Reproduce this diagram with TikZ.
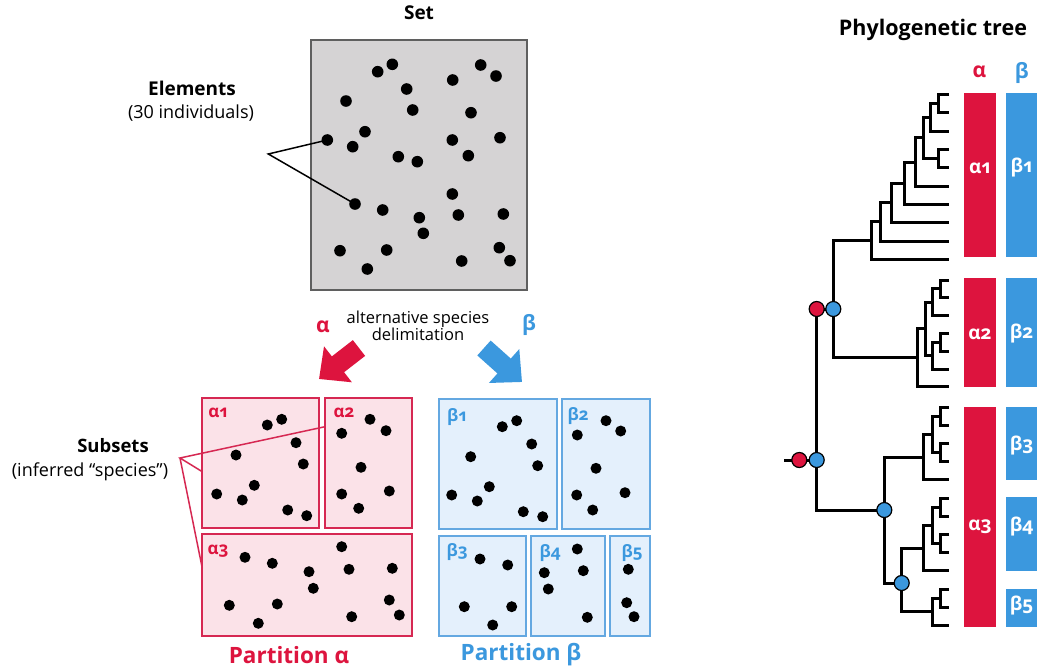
\documentclass[tikz,border=0pt]{standalone}
\usepackage{fontspec}
\setmainfont{Open Sans}
\newfontfamily\labfont[Numbers=OldStyle]{Open Sans}
\usetikzlibrary{arrows.meta}
\definecolor{setfill}{RGB}{213,211,212}
\definecolor{setdraw}{RGB}{95,95,95}
\definecolor{cRed}{RGB}{221,20,62}
\definecolor{cBlue}{RGB}{59,152,222}
\definecolor{pinkfill}{RGB}{251,226,232}
\definecolor{bluefill}{RGB}{228,240,252}
\definecolor{cRedBox}{RGB}{214,40,82}
\definecolor{cBlueBox}{RGB}{100,168,225}
\newcommand\tj[3]{\draw[tree] (#2) -| (#1) |- (#3);}
\begin{document}
\begin{tikzpicture}[x=1pt,y=-1pt,
  ttl/.style={font=\bfseries\fontsize{19}{22}\selectfont},
  bigttl/.style={font=\bfseries\fontsize{22.5}{26}\selectfont},
  sub/.style={font=\fontsize{18}{21}\selectfont},
  tree/.style={line width=3pt, line cap=butt, line join=miter},
  rnode/.style={circle,draw=black,line width=1.2pt,fill=cRed,minimum size=15pt,inner sep=0pt},
  bnode/.style={circle,draw=black,line width=1.2pt,fill=cBlue,minimum size=15pt,inner sep=0pt},
  setbox/.style={fill=setfill,draw=setdraw,line width=2pt},
  alphabox/.style={fill=pinkfill,draw=cRedBox,line width=1.8pt},
  betabox/.style={fill=bluefill,draw=cBlueBox,line width=1.8pt},
  boxlab/.style={font=\labfont\bfseries\fontsize{17}{20}\selectfont},
  barlab/.style={font=\labfont\bfseries\fontsize{19}{22}\selectfont,text=white},
  bigarrow/.style={line width=20pt,-{Triangle[length=24pt,width=44pt]}},
  pointer/.style={line width=1.5pt},
]
\useasboundingbox (0,0) rectangle (1037,670);
\fill[white] (0,0) rectangle (1037,670);

% ---------- Set ----------
\node[ttl] (settitle) at (419,13) {Set};
\draw[setbox] (311,40) rectangle (527,290);
\node[ttl] (elem) at (192,88) {Elements};
\node[sub] (elemsub) at (191,113) {(30 individuals)};
\coordinate (elv) at (268.3,154);
\coordinate (sdA) at (327.3,140);
\coordinate (sdB) at (355,204);
\draw[pointer] (sdA) -- (elv) -- (sdB);
\foreach \x/\y in {377.7/71.7,392.3/64.3,406.7/89,346/101,412.7/110,452.7/80,480.7/65,496/76,471/112.7,327.3/140,365/131.7,352.7/146.7,398.3/156.7,417.3/161.7,452.3/140,468.3/155.7,500/137.7,355/204,382.7/210,419.3/217.7,423.3/233.3,452.3/194,458.3/215,503.3/214,340/250.7,386.7/250,367.3/269,461.7/261,499.3/247.7,510/260.7}
  \fill (\x,\y) circle (5.8pt);

% ---------- arrows ----------
\coordinate (raT) at (359,348);
\coordinate (raP) at (319,379);
\coordinate (baT) at (484,348);
\coordinate (baP) at (522,382);
\draw[bigarrow,cRed] (raT) -- (raP);
\draw[bigarrow,cBlue] (baT) -- (baP);
\node[font=\bfseries\fontsize{21}{24}\selectfont,text=cRed] (alab) at (323,327) {α};
\node[font=\bfseries\fontsize{21}{24}\selectfont,text=cBlue] (blab) at (529,325) {β};
\node[font=\fontsize{16.5}{14}\selectfont,align=center] (alt) at (418,326) {alternative species\\delimitation};

% ---------- Partition alpha ----------
\draw[alphabox] (202.3,398.3) rectangle (319.3,527.7);
\draw[alphabox] (325,398.3) rectangle (411.7,527.7);
\draw[alphabox] (202.3,534) rectangle (411.7,636);
\node[boxlab,text=cRed] (la1) at (218,413) {α1};
\node[boxlab,text=cRed] (la2) at (344,413) {α2};
\node[boxlab,text=cRed] (la3) at (218,551) {α3};
\foreach \x/\y in {267.3/425,281.7/419.3,296/442.7,236/455,303.3/464,254.3/485.3,216.7/494,242.3/500,287.7/510,306.7/515.7,370/419.3,386/430.7,341.7/433.3,361/467.3,341.7/494,389.3/491,358.7/508.3,341.7/546.7,245/557.3,272.3/563.3,349/569.3,309/571.7,392.3/568.3,313.3/588.3,229.3/605.3,277.3/604,389.3/600,399.3/615,258.3/623.3,351.7/616.7}
  \fill (\x,\y) circle (5.5pt);
\node[bigttl,text=cRed] (pa) at (289,655) {Partition α};

% subsets pointer
\node[font=\bfseries\fontsize{18.5}{21}\selectfont] (subs) at (113,446) {Subsets};
\node[sub] (subsub) at (90,472) {(inferred “species”)};
\coordinate (sv) at (180,458);
\coordinate (sp1) at (202.3,471.7);
\coordinate (sp2) at (325,426.7);
\coordinate (sp3) at (202.3,568.3);
\draw[pointer,cRedBox] (sp2) -- (sv) -- (sp1);
\draw[pointer,cRedBox] (sv) -- (sp3);

% ---------- Partition beta ----------
\draw[betabox] (439,399) rectangle (557.3,529.3);
\draw[betabox] (562.3,399) rectangle (650,529.3);
\draw[betabox] (439,535.7) rectangle (525.7,636);
\draw[betabox] (530.7,535.7) rectangle (605,636);
\draw[betabox] (610.3,535.7) rectangle (650,636);
\node[boxlab,text=cBlue] (lb1) at (457,416.7) {β1};
\node[boxlab,text=cBlue] (lb2) at (578,416) {β2};
\node[boxlab,text=cBlue] (lb3) at (457,551.7) {β3};
\node[boxlab,text=cBlue] (lb4) at (550,553) {β4};
\node[boxlab,text=cBlue] (lb5) at (632,553) {β5};
\foreach \x/\y in {502.3/426.7,516.7/420.7,531.7/444,470.7/456.7,537.7/465.7,489.3/486.7,451.7/495,477.3/501,523.3/511.7,542.7/516.7,606/420.7,620.7/431,577.3/435,596/468.3,576.7/495,625/492.7,592.7/510,480/559,507.7/565,464.3/606.7,511.7/606.7,492.7/625,577.3/549,544.3/572.7,583.3/570.7,548.3/589,587.3/617.3,628.3/569.3,626.7/602.7,634/616.7}
  \fill (\x,\y) circle (5.5pt);
\node[bigttl,text=cBlue] (pb) at (521,655) {Partition β};

% ---------- Phylogenetic tree ----------
\node[font=\bfseries\fontsize{21.5}{25}\selectfont] (phylo) at (933,30) {Phylogenetic tree};
\node[font=\bfseries\fontsize{21}{24}\selectfont,text=cRed] (ha) at (979.3,72) {α};
\node[font=\bfseries\fontsize{21}{24}\selectfont,text=cBlue] (hb) at (1021.7,73) {β};

% bars
\fill[cRed] (964,92.7) rectangle (995.7,257.3);
\fill[cRed] (964,278.3) rectangle (995.7,387.3);
\fill[cRed] (964,406.7) rectangle (995.7,627.3);
\fill[cBlue] (1006,92.7) rectangle (1037,257.3);
\fill[cBlue] (1006,278.3) rectangle (1037,387.3);
\fill[cBlue] (1006,406.7) rectangle (1037,480);
\fill[cBlue] (1006,497.3) rectangle (1037,570.7);
\fill[cBlue] (1006,589.3) rectangle (1037,627.3);
\node[barlab] (ba1) at (980,168) {α1};
\node[barlab] (ba2) at (980,334) {α2};
\node[barlab] (ba3) at (980,527) {α3};
\node[barlab] (bb1) at (1021.5,168) {β1};
\node[barlab] (bb2) at (1021.5,334) {β2};
\node[barlab] (bb3) at (1021.5,446) {β3};
\node[barlab] (bb4) at (1021.5,527) {β4};
\node[barlab] (bb5) at (1021.5,606) {β5};

% leaves clade 1
\coordinate (l1) at (949,94.3);
\coordinate (l2) at (949,112.6);
\coordinate (l3) at (949,131);
\coordinate (l4) at (949,149.3);
\coordinate (l5) at (949,167.6);
\coordinate (l6) at (949,186);
\coordinate (l7) at (949,204.3);
\coordinate (l8) at (949,222.6);
\coordinate (l9) at (949,241);
\coordinate (l10) at (949,259.3);
\coordinate (a1) at (938.3,103.5);
\coordinate (a2) at (930,117.2);
\coordinate (a3) at (938.3,158.5);
\coordinate (a4) at (923.3,137.9);
\coordinate (a5) at (915,162);
\coordinate (a6) at (904,183.1);
\coordinate (a7) at (891.7,202.9);
\coordinate (a8) at (880,221.9);
\coordinate (a9) at (871.7,240.6);
\tj{a1}{l1}{l2}
\tj{a2}{a1}{l3}
\tj{a3}{l4}{l5}
\tj{a4}{a2}{a3}
\tj{a5}{a4}{l6}
\tj{a6}{a5}{l7}
\tj{a7}{a6}{l8}
\tj{a8}{a7}{l9}
\tj{a9}{a8}{l10}

% clade 2
\coordinate (m1) at (949,280);
\coordinate (m2) at (949,297.8);
\coordinate (m3) at (949,315.6);
\coordinate (m4) at (949,333.4);
\coordinate (m5) at (949,351.2);
\coordinate (m6) at (949,369);
\coordinate (m7) at (949,386.8);
\coordinate (b1) at (940,288.9);
\coordinate (b2) at (932.3,302.25);
\coordinate (b3) at (940,342.3);
\coordinate (b4) at (932.3,355.65);
\coordinate (b5) at (925,328.95);
\coordinate (b6) at (917.3,357.9);
\tj{b1}{m1}{m2}
\tj{b2}{b1}{m3}
\tj{b3}{m4}{m5}
\tj{b4}{b3}{m6}
\tj{b5}{b2}{b4}
\tj{b6}{b5}{m7}

% clade 3
\coordinate (n1) at (949,407);
\coordinate (n2) at (949,425.2);
\coordinate (n3) at (949,443.4);
\coordinate (n4) at (949,461.6);
\coordinate (n5) at (949,479.8);
\coordinate (n6) at (949,498);
\coordinate (n7) at (949,516.2);
\coordinate (n8) at (949,534.4);
\coordinate (n9) at (949,552.6);
\coordinate (n10) at (949,570.8);
\coordinate (n11) at (949,589);
\coordinate (n12) at (949,607.2);
\coordinate (n13) at (949,625.4);
\coordinate (c1) at (940,416.1);
\coordinate (c2) at (940,452.5);
\coordinate (c3) at (932.3,434.3);
\coordinate (c4) at (923.3,457);
\coordinate (d1) at (940,507.1);
\coordinate (d2) at (940,543.5);
\coordinate (d3) at (932.3,525.3);
\coordinate (d4) at (923.3,548);
\coordinate (e1) at (940,598.1);
\coordinate (e2) at (932.3,611.75);
\coordinate (e3) at (901.7,583);
\coordinate (e4) at (884.3,510);
\tj{c1}{n1}{n2}
\tj{c2}{n3}{n4}
\tj{c3}{c1}{c2}
\tj{c4}{c3}{n5}
\tj{d1}{n6}{n7}
\tj{d2}{n8}{n9}
\tj{d3}{d1}{d2}
\tj{d4}{d3}{n10}
\tj{e1}{n11}{n12}
\tj{e2}{e1}{n13}
\tj{e3}{d4}{e2}
\tj{e4}{c4}{e3}

% deep nodes
\coordinate (up) at (833.3,309);
\coordinate (upR) at (816.7,309);
\coordinate (root) at (816.7,460);
\coordinate (rootR) at (799.3,460);
\coordinate (stub) at (784.3,460);
\tj{up}{a9}{b6}
\draw[tree] (upR) -- (up);
\draw[tree] (upR) -- (root) |- (e4);
\draw[tree] (stub) -- (rootR) -- (root);

\node[rnode] (nr1) at (upR) {};
\node[bnode] (nb1) at (up) {};
\node[rnode] (nr0) at (rootR) {};
\node[bnode] (nb0) at (root) {};
\node[bnode] (nb2) at (e4) {};
\node[bnode] (nb3) at (e3) {};
\end{tikzpicture}
\end{document}
